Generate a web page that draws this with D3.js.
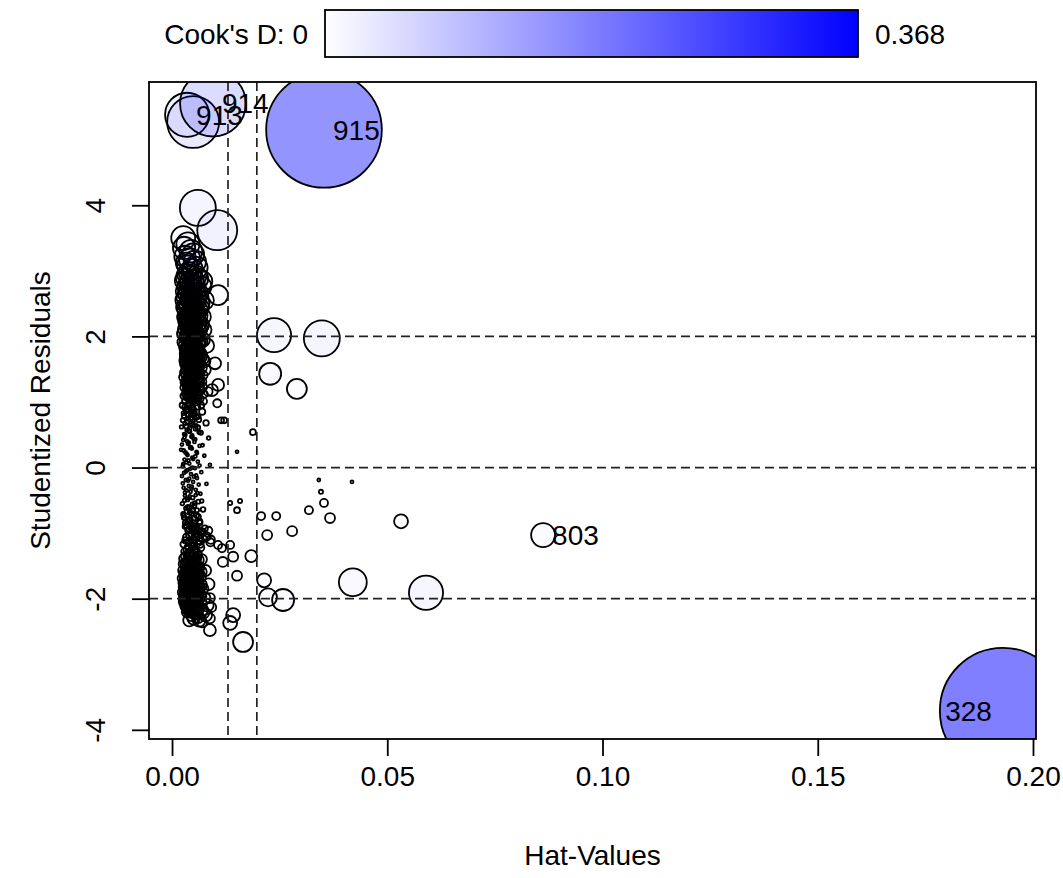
<!DOCTYPE html>
<html>
<head>
<meta charset="utf-8">
<script src="https://cdn.jsdelivr.net/npm/d3@7/dist/d3.min.js"></script>
<style>
  body { margin: 0; background: #fff; }
  text { font-family: Arial, "Liberation Sans", sans-serif; fill: #000; }
</style>
</head>
<body>
<div id="my_dataviz"></div>
<script>
// ---- data: [hat value, studentized residual, Cook's D] ----
var labelledPoints = [
  [0.0035, 5.38, 0.045],
  [0.0095, 5.55, 0.100],
  [0.0353, 5.15, 0.310],
  [0.0862, -1.03, 0.0133],
  [0.1930, -3.71, 0.368]
];
var labelIds = ["913", "914", "915", "803", "328"];

var outerPoints = [
  [0.0049, 5.27, 0.0625], [0.0060, 3.96, 0.030], [0.0105, 3.62, 0.037],
  [0.0237, 2.02, 0.027], [0.0348, 1.97, 0.030], [0.0228, 1.43, 0.0112],
  [0.0290, 1.20, 0.0092], [0.0188, 0.54, 0.0008], [0.0341, -0.19, 0.0001],
  [0.0418, -0.22, 0.0001], [0.0346, -0.37, 0.0004], [0.0353, -0.54, 0.0015],
  [0.0318, -0.65, 0.0015], [0.0367, -0.77, 0.0023], [0.0532, -0.82, 0.0045],
  [0.0207, -0.74, 0.0015], [0.0242, -0.74, 0.0015], [0.0221, -1.03, 0.0023],
  [0.0279, -0.97, 0.0023], [0.0184, -1.35, 0.0033], [0.0214, -1.72, 0.0045],
  [0.0420, -1.75, 0.018], [0.0590, -1.91, 0.027], [0.0223, -1.98, 0.0075],
  [0.0258, -2.02, 0.0112], [0.0142, -2.25, 0.0045], [0.0135, -2.37, 0.0045],
  [0.0165, -2.66, 0.0092], [0.0088, -2.48, 0.0033], [0.0070, -2.36, 0.0023],
  [0.0088, -2.30, 0.0023], [0.0151, -1.65, 0.0023], [0.0142, -1.36, 0.0023],
  [0.0135, -1.18, 0.0015], [0.0116, -1.23, 0.0015], [0.0151, -0.65, 0.0008],
  [0.0091, -2.13, 0.0023], [0.0046, -2.22, 0.0023], [0.0158, -0.51, 0.0004],
  [0.0135, -0.54, 0.0004], [0.0151, 0.24, 0.0001], [0.0114, 0.72, 0.0008],
  [0.0121, 0.72, 0.0008], [0.0105, 0.98, 0.0015], [0.0107, 1.26, 0.0033],
  [0.0093, 1.18, 0.0033], [0.0100, 1.59, 0.0033], [0.0107, 2.63, 0.0092],
  [0.0118, -1.44, 0.0023], [0.0107, -1.18, 0.0015], [0.0088, -1.99, 0.0023]
];

var upperCluster = [
  [0.0026, 3.50, 0.0133], [0.0037, 3.41, 0.0125], [0.0044, 3.30, 0.0120], [0.0030, 3.22, 0.0105],
  [0.0053, 3.14, 0.0115], [0.0047, 3.02, 0.0105], [0.0035, 2.95, 0.0092], [0.0060, 2.88, 0.0100],
  [0.0040, 2.83, 0.0088], [0.0068, 2.76, 0.0095], [0.0051, 2.72, 0.0085], [0.0029, 2.69, 0.0072],
  [0.0043, 2.62, 0.0078], [0.0058, 2.58, 0.0080], [0.0075, 2.55, 0.0085], [0.0036, 2.51, 0.0070],
  [0.0049, 2.47, 0.0072], [0.0065, 2.44, 0.0075], [0.0031, 2.40, 0.0060], [0.0055, 2.37, 0.0068],
  [0.0042, 2.33, 0.0062], [0.0070, 2.30, 0.0070], [0.0047, 2.26, 0.0060], [0.0033, 2.23, 0.0052],
  [0.0061, 2.20, 0.0060], [0.0053, 2.16, 0.0055], [0.0038, 2.13, 0.0050], [0.0073, 2.10, 0.0060],
  [0.0045, 2.07, 0.0050], [0.0027, 2.04, 0.0042], [0.0058, 2.01, 0.0048], [0.0050, 1.98, 0.0045],
  [0.0035, 1.95, 0.0040], [0.0066, 1.92, 0.0046], [0.0042, 1.89, 0.0038], [0.0081, 1.86, 0.0048],
  [0.0055, 1.84, 0.0040], [0.0031, 1.81, 0.0033], [0.0048, 1.78, 0.0035], [0.0062, 1.75, 0.0036],
  [0.0038, 1.72, 0.0030], [0.0053, 1.69, 0.0031], [0.0071, 1.66, 0.0034], [0.0029, 1.63, 0.0025],
  [0.0045, 1.60, 0.0027], [0.0058, 1.57, 0.0028], [0.0036, 1.54, 0.0023], [0.0050, 1.51, 0.0024],
  [0.0077, 1.49, 0.0029], [0.0041, 1.46, 0.0021], [0.0064, 1.43, 0.0023], [0.0032, 1.40, 0.0018],
  [0.0054, 1.37, 0.0020], [0.0046, 1.34, 0.0018], [0.0069, 1.31, 0.0020], [0.0037, 1.28, 0.0015],
  [0.0057, 1.25, 0.0016], [0.0028, 1.22, 0.0013], [0.0049, 1.19, 0.0014], [0.0084, 1.16, 0.0018],
  [0.0040, 1.13, 0.0012], [0.0060, 1.10, 0.0013], [0.0034, 1.07, 0.0010], [0.0052, 1.04, 0.0011],
  [0.0073, 1.01, 0.0012], [0.0039, 2.98, 0.0095], [0.0056, 2.92, 0.0098], [0.0047, 2.80, 0.0088],
  [0.0033, 2.76, 0.0078], [0.0062, 2.66, 0.0085], [0.0039, 2.57, 0.0070], [0.0052, 2.53, 0.0074],
  [0.0044, 2.42, 0.0065], [0.0059, 2.35, 0.0066], [0.0036, 2.29, 0.0055], [0.0050, 2.22, 0.0058],
  [0.0067, 2.18, 0.0062], [0.0041, 2.09, 0.0048], [0.0055, 2.05, 0.0050], [0.0032, 1.99, 0.0040],
  [0.0046, 1.93, 0.0042], [0.0060, 1.88, 0.0044], [0.0037, 1.84, 0.0035], [0.0052, 1.80, 0.0037],
  [0.0043, 1.74, 0.0032], [0.0067, 1.71, 0.0036], [0.0034, 1.67, 0.0027], [0.0049, 1.64, 0.0029],
  [0.0061, 1.59, 0.0030], [0.0039, 1.56, 0.0024], [0.0054, 1.53, 0.0025], [0.0044, 1.48, 0.0022],
  [0.0029, 1.45, 0.0019], [0.0059, 1.41, 0.0022], [0.0048, 1.36, 0.0019], [0.0035, 1.32, 0.0016],
  [0.0063, 1.28, 0.0018], [0.0043, 1.24, 0.0015], [0.0054, 1.17, 0.0014], [0.0031, 1.12, 0.0011],
  [0.0046, 1.08, 0.0011], [0.0065, 1.05, 0.0012], [0.0028, 3.35, 0.0115], [0.0049, 3.25, 0.0112],
  [0.0036, 3.08, 0.0100], [0.0058, 3.05, 0.0105], [0.0031, 2.90, 0.0085], [0.0051, 2.86, 0.0090],
  [0.0070, 2.84, 0.0095], [0.0037, 2.71, 0.0078], [0.0056, 2.68, 0.0082], [0.0030, 2.60, 0.0068],
  [0.0047, 2.56, 0.0072], [0.0066, 2.50, 0.0076], [0.0028, 2.45, 0.0060], [0.0041, 2.38, 0.0062],
  [0.0063, 2.32, 0.0066], [0.0033, 2.27, 0.0055], [0.0056, 2.24, 0.0060], [0.0044, 2.15, 0.0054],
  [0.0030, 2.11, 0.0046], [0.0062, 2.08, 0.0055], [0.0049, 2.03, 0.0050], [0.0038, 1.97, 0.0042],
  [0.0071, 1.95, 0.0050], [0.0027, 1.91, 0.0036], [0.0054, 1.89, 0.0042], [0.0044, 1.83, 0.0037],
  [0.0033, 1.77, 0.0031], [0.0058, 1.73, 0.0034], [0.0040, 1.69, 0.0029], [0.0075, 1.62, 0.0034],
  [0.0030, 1.58, 0.0023], [0.0052, 1.55, 0.0026], [0.0068, 1.52, 0.0028], [0.0038, 1.49, 0.0022],
  [0.0057, 1.45, 0.0023], [0.0026, 1.38, 0.0016], [0.0043, 1.35, 0.0018], [0.0064, 1.33, 0.0020],
  [0.0051, 1.30, 0.0018], [0.0033, 1.26, 0.0015], [0.0071, 1.23, 0.0018], [0.0047, 1.21, 0.0015],
  [0.0038, 1.15, 0.0013], [0.0062, 1.13, 0.0014], [0.0027, 1.09, 0.0010], [0.0056, 1.06, 0.0012],
  [0.0042, 1.02, 0.0011], [0.0041, 3.18, 0.0108], [0.0033, 3.12, 0.0100], [0.0045, 2.93, 0.0092],
  [0.0028, 2.85, 0.0080], [0.0054, 2.78, 0.0088], [0.0042, 2.74, 0.0082], [0.0035, 2.65, 0.0074],
  [0.0050, 2.63, 0.0078], [0.0060, 2.61, 0.0082], [0.0027, 2.55, 0.0064], [0.0044, 2.52, 0.0070],
  [0.0034, 2.46, 0.0063], [0.0053, 2.43, 0.0068], [0.0039, 2.36, 0.0060], [0.0048, 2.31, 0.0060],
  [0.0029, 2.30, 0.0052], [0.0058, 2.28, 0.0064], [0.0041, 2.24, 0.0056], [0.0035, 2.17, 0.0050],
  [0.0051, 2.14, 0.0054], [0.0064, 2.12, 0.0058], [0.0043, 2.05, 0.0048], [0.0033, 2.02, 0.0043],
  [0.0053, 1.99, 0.0047], [0.0040, 1.95, 0.0042], [0.0061, 1.93, 0.0046], [0.0030, 1.87, 0.0036],
  [0.0048, 1.86, 0.0040], [0.0057, 1.82, 0.0040], [0.0035, 1.79, 0.0033], [0.0046, 1.75, 0.0034],
  [0.0065, 1.74, 0.0037], [0.0031, 1.70, 0.0028], [0.0055, 1.67, 0.0031], [0.0043, 1.65, 0.0029],
  [0.0037, 1.61, 0.0026], [0.0064, 1.60, 0.0030], [0.0047, 1.57, 0.0027], [0.0033, 1.52, 0.0023],
  [0.0058, 1.50, 0.0025], [0.0042, 1.43, 0.0021], [0.0052, 1.40, 0.0021], [0.0036, 1.37, 0.0018],
  [0.0060, 1.36, 0.0021], [0.0030, 1.30, 0.0016], [0.0045, 1.28, 0.0017], [0.0055, 1.22, 0.0016],
  [0.0039, 1.19, 0.0014], [0.0066, 1.18, 0.0016], [0.0050, 1.14, 0.0013], [0.0032, 1.16, 0.0012],
  [0.0044, 1.11, 0.0012]
];

var upperDense = [
  [0.0034, 2.58, 0.0040], [0.0052, 2.56, 0.0042], [0.0041, 2.53, 0.0038], [0.0063, 2.51, 0.0043],
  [0.0029, 2.49, 0.0035], [0.0047, 2.47, 0.0038], [0.0056, 2.44, 0.0040], [0.0037, 2.42, 0.0034],
  [0.0068, 2.40, 0.0042], [0.0044, 2.38, 0.0035], [0.0031, 2.35, 0.0031], [0.0053, 2.33, 0.0036],
  [0.0040, 2.31, 0.0032], [0.0060, 2.29, 0.0036], [0.0035, 2.26, 0.0030], [0.0049, 2.24, 0.0032],
  [0.0027, 2.22, 0.0027], [0.0058, 2.20, 0.0033], [0.0043, 2.18, 0.0030], [0.0071, 2.16, 0.0035],
  [0.0038, 2.13, 0.0028], [0.0052, 2.11, 0.0030], [0.0032, 2.09, 0.0026], [0.0046, 2.07, 0.0028],
  [0.0063, 2.05, 0.0031], [0.0040, 2.03, 0.0026], [0.0055, 2.00, 0.0028], [0.0029, 1.98, 0.0023],
  [0.0048, 1.96, 0.0026], [0.0036, 1.94, 0.0024], [0.0066, 1.92, 0.0029], [0.0043, 1.90, 0.0024],
  [0.0057, 1.87, 0.0025], [0.0033, 1.85, 0.0021], [0.0050, 1.83, 0.0023], [0.0039, 1.81, 0.0021],
  [0.0061, 1.79, 0.0024], [0.0045, 1.76, 0.0021], [0.0028, 1.74, 0.0018], [0.0054, 1.72, 0.0021],
  [0.0037, 1.70, 0.0019], [0.0069, 1.68, 0.0022], [0.0047, 1.65, 0.0019], [0.0031, 1.63, 0.0016],
  [0.0059, 1.61, 0.0019], [0.0042, 1.59, 0.0017], [0.0051, 1.57, 0.0017], [0.0035, 1.54, 0.0015],
  [0.0064, 1.52, 0.0018], [0.0046, 1.50, 0.0015], [0.0030, 1.48, 0.0013], [0.0055, 1.46, 0.0015],
  [0.0040, 1.43, 0.0013], [0.0073, 1.41, 0.0016], [0.0049, 1.39, 0.0013], [0.0034, 1.37, 0.0011],
  [0.0060, 1.35, 0.0013], [0.0043, 1.32, 0.0011], [0.0027, 1.30, 0.0009], [0.0053, 1.28, 0.0011],
  [0.0038, 1.26, 0.0010], [0.0066, 1.24, 0.0012], [0.0047, 1.21, 0.0010], [0.0032, 1.19, 0.0008],
  [0.0057, 1.17, 0.0010], [0.0041, 1.15, 0.0008], [0.0075, 1.12, 0.0011], [0.0050, 1.10, 0.0009],
  [0.0036, 1.08, 0.0007], [0.0062, 1.06, 0.0009], [0.0044, 1.03, 0.0007], [0.0029, 1.01, 0.0006],
  [0.0055, 0.99, 0.0007], [0.0039, 0.97, 0.0006], [0.0068, 0.95, 0.0008], [0.0048, 0.92, 0.0006]
];

var middleCluster = [
  [0.0040, 0.98, 0.0009], [0.0024, 0.95, 0.0007], [0.0058, 0.93, 0.0009], [0.0046, 0.90, 0.0008],
  [0.0033, 0.87, 0.0007], [0.0070, 0.85, 0.0009], [0.0051, 0.82, 0.0007], [0.0028, 0.79, 0.0005],
  [0.0043, 0.76, 0.0006], [0.0062, 0.73, 0.0006], [0.0036, 0.70, 0.0005], [0.0079, 0.68, 0.0007],
  [0.0048, 0.65, 0.0004], [0.0022, 0.62, 0.0003], [0.0055, 0.59, 0.0004], [0.0039, 0.56, 0.0003],
  [0.0067, 0.53, 0.0004], [0.0031, 0.50, 0.0002], [0.0045, 0.47, 0.0002], [0.0085, 0.45, 0.0003],
  [0.0026, 0.42, 0.0002], [0.0052, 0.39, 0.0002], [0.0037, 0.36, 0.0001], [0.0064, 0.33, 0.0002],
  [0.0042, 0.30, 0.0001], [0.0021, 0.27, 0.0001], [0.0057, 0.24, 0.0001], [0.0034, 0.21, 0.0001],
  [0.0075, 0.18, 0.0001], [0.0047, 0.15, 0.00005], [0.0029, 0.12, 0.00003], [0.0060, 0.09, 0.00003],
  [0.0040, 0.06, 0.00002], [0.0088, 0.04, 0.00002], [0.0025, 0.02, 0.00001], [0.0053, -0.01, 0.00001],
  [0.0036, -0.04, 0.00002], [0.0068, -0.07, 0.00003], [0.0044, -0.10, 0.00003], [0.0023, -0.13, 0.00003],
  [0.0058, -0.16, 0.00005], [0.0032, -0.19, 0.0001], [0.0049, -0.22, 0.0001], [0.0080, -0.25, 0.0001],
  [0.0039, -0.28, 0.0001], [0.0027, -0.31, 0.0001], [0.0055, -0.34, 0.0002], [0.0043, -0.37, 0.0002],
  [0.0066, -0.40, 0.0002], [0.0030, -0.43, 0.0002], [0.0048, -0.46, 0.0003], [0.0036, -0.49, 0.0003],
  [0.0061, -0.52, 0.0004], [0.0024, -0.55, 0.0003], [0.0052, -0.58, 0.0004], [0.0041, -0.61, 0.0004],
  [0.0072, -0.64, 0.0005], [0.0034, -0.67, 0.0004], [0.0046, -0.70, 0.0005], [0.0057, -0.73, 0.0006],
  [0.0028, -0.76, 0.0005], [0.0039, -0.79, 0.0006], [0.0064, -0.82, 0.0007], [0.0050, -0.85, 0.0007],
  [0.0033, -0.88, 0.0006], [0.0044, -0.91, 0.0007], [0.0076, -0.93, 0.0009], [0.0037, -0.96, 0.0007],
  [0.0055, -0.98, 0.0008], [0.0030, 0.92, 0.0007], [0.0050, 0.88, 0.0007], [0.0038, 0.81, 0.0006],
  [0.0057, 0.77, 0.0006], [0.0025, 0.72, 0.0004], [0.0045, 0.68, 0.0005], [0.0033, 0.63, 0.0004],
  [0.0060, 0.61, 0.0005], [0.0041, 0.55, 0.0003], [0.0028, 0.51, 0.0002], [0.0050, 0.44, 0.0002],
  [0.0035, 0.40, 0.0002], [0.0023, 0.35, 0.0001], [0.0046, 0.29, 0.0001], [0.0031, 0.23, 0.0001],
  [0.0054, 0.17, 0.00005], [0.0038, 0.11, 0.00003], [0.0026, 0.05, 0.00002], [0.0047, 0.00, 0.00001],
  [0.0032, -0.06, 0.00002], [0.0056, -0.12, 0.00003], [0.0040, -0.17, 0.00005], [0.0025, -0.24, 0.0001],
  [0.0046, -0.29, 0.0001], [0.0034, -0.35, 0.0002], [0.0059, -0.39, 0.0002], [0.0041, -0.44, 0.0002],
  [0.0029, -0.50, 0.0003], [0.0053, -0.54, 0.0003], [0.0037, -0.60, 0.0004], [0.0048, -0.66, 0.0005],
  [0.0026, -0.71, 0.0004], [0.0061, -0.75, 0.0006], [0.0042, -0.80, 0.0006], [0.0031, -0.84, 0.0006],
  [0.0053, -0.89, 0.0007], [0.0040, -0.94, 0.0007], [0.0068, -0.97, 0.0009], [0.0046, -0.92, 0.0010],
  [0.0060, -0.95, 0.0011], [0.0072, -0.99, 0.0013], [0.0085, -0.96, 0.0013], [0.0053, -1.02, 0.0011],
  [0.0078, -1.07, 0.0014], [0.0066, -1.12, 0.0013], [0.0089, -1.14, 0.0015]
];

var middleDense = [
  [0.0035, 0.89, 0.0005], [0.0052, 0.86, 0.0005], [0.0027, 0.83, 0.0004], [0.0044, 0.80, 0.0004],
  [0.0061, 0.78, 0.0005], [0.0038, 0.74, 0.0003], [0.0049, 0.71, 0.0003], [0.0030, 0.67, 0.0003],
  [0.0056, 0.64, 0.0003], [0.0042, 0.60, 0.0002], [0.0034, 0.57, 0.0002], [0.0063, 0.54, 0.0003],
  [0.0047, 0.49, 0.0002], [0.0029, 0.46, 0.0001], [0.0054, 0.43, 0.0001], [0.0039, 0.38, 0.0001],
  [0.0071, 0.34, 0.0001], [0.0044, 0.31, 0.0001], [0.0027, 0.26, 0.0001], [0.0058, 0.22, 0.0001],
  [0.0036, 0.19, 0.00005], [0.0049, 0.13, 0.00003], [0.0033, 0.08, 0.00002], [0.0064, 0.03, 0.00001],
  [0.0042, -0.02, 0.00001], [0.0028, -0.08, 0.00002], [0.0051, -0.14, 0.00003], [0.0037, -0.20, 0.00005],
  [0.0062, -0.26, 0.0001], [0.0045, -0.32, 0.0001], [0.0030, -0.38, 0.0001], [0.0055, -0.42, 0.0002],
  [0.0039, -0.47, 0.0002], [0.0069, -0.51, 0.0003], [0.0047, -0.56, 0.0003], [0.0032, -0.62, 0.0003],
  [0.0058, -0.65, 0.0004], [0.0041, -0.69, 0.0004], [0.0027, -0.73, 0.0004], [0.0052, -0.77, 0.0005],
  [0.0036, -0.81, 0.0005], [0.0065, -0.84, 0.0006], [0.0045, -0.87, 0.0006], [0.0030, -0.90, 0.0005],
  [0.0056, -0.93, 0.0007]
];

var lowerCluster = [
  [0.0045, -1.01, 0.0011], [0.0062, -1.03, 0.0013], [0.0081, -1.05, 0.0015], [0.0033, -1.06, 0.0010],
  [0.0071, -1.08, 0.0014], [0.0052, -1.10, 0.0012], [0.0090, -1.10, 0.0016], [0.0039, -1.13, 0.0011],
  [0.0058, -1.15, 0.0013], [0.0027, -1.17, 0.0010], [0.0047, -1.20, 0.0012], [0.0066, -1.22, 0.0014],
  [0.0035, -1.25, 0.0012], [0.0054, -1.27, 0.0013], [0.0042, -1.30, 0.0020], [0.0058, -1.32, 0.0022],
  [0.0031, -1.35, 0.0019], [0.0050, -1.38, 0.0022], [0.0069, -1.40, 0.0025], [0.0038, -1.43, 0.0021],
  [0.0055, -1.45, 0.0023], [0.0026, -1.47, 0.0019], [0.0046, -1.50, 0.0023], [0.0063, -1.52, 0.0025],
  [0.0034, -1.54, 0.0021], [0.0052, -1.56, 0.0024], [0.0078, -1.57, 0.0028], [0.0040, -1.59, 0.0023],
  [0.0029, -1.61, 0.0021], [0.0058, -1.62, 0.0026], [0.0047, -1.64, 0.0025], [0.0036, -1.66, 0.0023],
  [0.0066, -1.67, 0.0028], [0.0024, -1.69, 0.0021], [0.0053, -1.70, 0.0026], [0.0042, -1.72, 0.0025],
  [0.0031, -1.74, 0.0023], [0.0060, -1.75, 0.0028], [0.0048, -1.77, 0.0027], [0.0085, -1.78, 0.0032],
  [0.0037, -1.79, 0.0025], [0.0055, -1.81, 0.0028], [0.0027, -1.82, 0.0023], [0.0044, -1.84, 0.0027],
  [0.0071, -1.85, 0.0031], [0.0033, -1.87, 0.0025], [0.0051, -1.88, 0.0029], [0.0040, -1.90, 0.0027],
  [0.0062, -1.91, 0.0031], [0.0029, -1.93, 0.0025], [0.0046, -1.94, 0.0029], [0.0036, -1.96, 0.0028],
  [0.0057, -1.97, 0.0031], [0.0075, -1.99, 0.0034], [0.0042, -2.00, 0.0029], [0.0031, -2.02, 0.0028],
  [0.0052, -2.03, 0.0031], [0.0066, -2.05, 0.0034], [0.0038, -2.07, 0.0030], [0.0047, -2.09, 0.0031],
  [0.0082, -2.10, 0.0037], [0.0058, -2.12, 0.0034], [0.0035, -2.14, 0.0031], [0.0069, -2.17, 0.0036],
  [0.0044, -2.19, 0.0033], [0.0054, -2.22, 0.0035], [0.0078, -2.25, 0.0039], [0.0050, -2.30, 0.0036],
  [0.0063, -2.33, 0.0038], [0.0048, -1.42, 0.0022], [0.0036, -1.52, 0.0022], [0.0057, -1.59, 0.0025],
  [0.0043, -1.61, 0.0024], [0.0034, -1.70, 0.0023], [0.0050, -1.73, 0.0026], [0.0039, -1.76, 0.0025],
  [0.0058, -1.79, 0.0028], [0.0030, -1.80, 0.0023], [0.0047, -1.82, 0.0027], [0.0064, -1.83, 0.0030],
  [0.0040, -1.86, 0.0026], [0.0054, -1.86, 0.0029], [0.0035, -1.91, 0.0026], [0.0049, -1.92, 0.0029],
  [0.0044, -1.97, 0.0029], [0.0061, -2.01, 0.0032], [0.0037, -2.04, 0.0029], [0.0045, -2.12, 0.0031],
  [0.0039, -1.33, 0.0020], [0.0053, -1.35, 0.0022], [0.0027, -1.39, 0.0019], [0.0062, -1.41, 0.0024],
  [0.0044, -1.46, 0.0022], [0.0031, -1.49, 0.0020], [0.0057, -1.50, 0.0024], [0.0048, -1.55, 0.0024],
  [0.0025, -1.57, 0.0020], [0.0068, -1.59, 0.0027], [0.0038, -1.63, 0.0023], [0.0052, -1.65, 0.0025],
  [0.0029, -1.67, 0.0022], [0.0061, -1.69, 0.0027], [0.0045, -1.69, 0.0025], [0.0036, -1.72, 0.0024],
  [0.0056, -1.73, 0.0027], [0.0026, -1.76, 0.0022], [0.0043, -1.78, 0.0026], [0.0068, -1.79, 0.0030],
  [0.0033, -1.83, 0.0024], [0.0051, -1.84, 0.0028], [0.0038, -1.88, 0.0026], [0.0058, -1.89, 0.0030],
  [0.0025, -1.90, 0.0023], [0.0044, -1.91, 0.0028], [0.0032, -1.95, 0.0026], [0.0052, -1.96, 0.0030],
  [0.0066, -1.96, 0.0033], [0.0039, -1.98, 0.0028], [0.0048, -2.01, 0.0030], [0.0028, -2.05, 0.0026],
  [0.0056, -2.07, 0.0032], [0.0041, -2.10, 0.0030], [0.0032, -2.11, 0.0029], [0.0062, -2.14, 0.0035],
  [0.0050, -2.16, 0.0033], [0.0039, -2.18, 0.0031], [0.0072, -2.21, 0.0037], [0.0046, -2.25, 0.0034],
  [0.0060, -2.28, 0.0036], [0.0040, -2.33, 0.0034], [0.0041, -1.37, 0.0021], [0.0056, -1.40, 0.0023],
  [0.0033, -1.44, 0.0020], [0.0051, -1.47, 0.0023], [0.0040, -1.51, 0.0022], [0.0060, -1.55, 0.0026],
  [0.0030, -1.58, 0.0021], [0.0049, -1.60, 0.0024], [0.0041, -1.65, 0.0024], [0.0062, -1.64, 0.0027],
  [0.0032, -1.68, 0.0022], [0.0050, -1.67, 0.0025], [0.0039, -1.70, 0.0024], [0.0046, -1.74, 0.0026],
  [0.0029, -1.77, 0.0022], [0.0053, -1.77, 0.0027], [0.0041, -1.80, 0.0026], [0.0035, -1.81, 0.0025],
  [0.0061, -1.81, 0.0029], [0.0049, -1.85, 0.0028], [0.0030, -1.86, 0.0024], [0.0043, -1.88, 0.0027],
  [0.0056, -1.91, 0.0030], [0.0038, -1.93, 0.0027], [0.0047, -1.96, 0.0029], [0.0028, -1.98, 0.0025],
  [0.0054, -2.00, 0.0031], [0.0041, -2.03, 0.0029], [0.0034, -2.06, 0.0028], [0.0050, -2.06, 0.0031],
  [0.0044, -2.15, 0.0032], [0.0036, -2.20, 0.0031]
];

var lowerDense = [
  [0.0040, -1.04, 0.0009], [0.0056, -1.07, 0.0010], [0.0031, -1.11, 0.0009], [0.0048, -1.14, 0.0010],
  [0.0065, -1.17, 0.0012], [0.0037, -1.21, 0.0010], [0.0054, -1.24, 0.0011], [0.0029, -1.28, 0.0010],
  [0.0045, -1.31, 0.0012], [0.0061, -1.34, 0.0014], [0.0035, -1.36, 0.0012], [0.0050, -1.41, 0.0014],
  [0.0042, -1.44, 0.0014], [0.0028, -1.46, 0.0012], [0.0058, -1.48, 0.0016], [0.0037, -1.53, 0.0015],
  [0.0053, -1.54, 0.0016], [0.0044, -1.58, 0.0016], [0.0031, -1.60, 0.0015], [0.0064, -1.61, 0.0019],
  [0.0048, -1.63, 0.0017], [0.0035, -1.65, 0.0016], [0.0056, -1.66, 0.0018], [0.0027, -1.71, 0.0015],
  [0.0042, -1.71, 0.0017], [0.0051, -1.75, 0.0018], [0.0038, -1.77, 0.0017], [0.0033, -1.79, 0.0017],
  [0.0059, -1.77, 0.0019], [0.0046, -1.80, 0.0018], [0.0029, -1.84, 0.0016], [0.0041, -1.85, 0.0018],
  [0.0053, -1.83, 0.0019], [0.0036, -1.89, 0.0018], [0.0050, -1.90, 0.0019], [0.0063, -1.88, 0.0021],
  [0.0043, -1.93, 0.0019], [0.0031, -1.94, 0.0018], [0.0055, -1.95, 0.0020], [0.0039, -2.00, 0.0019],
  [0.0047, -1.99, 0.0020], [0.0029, -2.01, 0.0018], [0.0060, -2.03, 0.0022], [0.0035, -2.05, 0.0019],
  [0.0044, -2.06, 0.0020], [0.0052, -2.09, 0.0021], [0.0040, -2.13, 0.0021], [0.0048, -2.18, 0.0022],
  [0.0057, -2.20, 0.0023], [0.0034, -2.16, 0.0020]
];

var xTicks = [0, 0.05, 0.10, 0.15, 0.20];
var yTicks = [-4, -2, 0, 2, 4];
var hatCutoffs = [0.0130, 0.0197];   // 2p/n and 3p/n
var residCutoffs = [-2, 0, 2];
var cookRange = [0, 0.368];

// ---- layout ----
var width = 1063, height = 878;
var plot = {left: 149, right: 1036, top: 82, bottom: 739};
var fontSize = "28px";

var svg = d3.select("#my_dataviz")
  .append("svg")
    .attr("width", width)
    .attr("height", height);

var x = d3.scaleLinear()
  .domain([-0.00535, 0.2007])
  .range([plot.left, plot.right]);

var y = d3.scaleLinear()
  .domain([-4.14, 5.88])
  .range([plot.bottom, plot.top]);

var radius = d3.scaleSqrt()
  .domain(cookRange)
  .range([0, 63]);

// blue fill whose alpha grows with Cook's D (half-transparent at the max)
var fillAlpha = d3.scaleLinear()
  .domain(cookRange)
  .range([0, 0.5]);

var colour = d3.scaleLinear()
  .domain(cookRange)
  .range(["#ffffff", "#0000ff"]);

svg.append("clipPath")
    .attr("id", "plot-clip")
  .append("rect")
    .attr("x", plot.left)
    .attr("y", plot.top)
    .attr("width", plot.right - plot.left)
    .attr("height", plot.bottom - plot.top);

// all points, drawn in one layer
var allPoints = upperCluster.concat(upperDense, middleCluster, middleDense,
  lowerCluster, lowerDense, outerPoints, labelledPoints);

svg.append("g")
    .attr("clip-path", "url(#plot-clip)")
  .selectAll("circle")
  .data(allPoints)
  .enter().append("circle")
    .attr("cx", function(d) { return x(d[0]); })
    .attr("cy", function(d) { return y(d[1]); })
    .attr("r", function(d) { return Math.max(radius(d[2]), 1.5); })
    .attr("fill", "#0000ff")
    .attr("fill-opacity", function(d) { return fillAlpha(d[2]); })
    .attr("stroke", "#000")
    .attr("stroke-width", 1.8);

// reference lines
svg.selectAll(".vline")
  .data(hatCutoffs)
  .enter().append("line")
    .attr("class", "vline")
    .attr("x1", function(d) { return x(d); })
    .attr("x2", function(d) { return x(d); })
    .attr("y1", plot.top)
    .attr("y2", plot.bottom)
    .attr("stroke", "#222")
    .attr("stroke-width", 1.7)
    .attr("stroke-dasharray", "9,5");

svg.selectAll(".hline")
  .data(residCutoffs)
  .enter().append("line")
    .attr("class", "hline")
    .attr("x1", plot.left)
    .attr("x2", plot.right)
    .attr("y1", function(d) { return y(d); })
    .attr("y2", function(d) { return y(d); })
    .attr("stroke", "#222")
    .attr("stroke-width", 1.7)
    .attr("stroke-dasharray", "9,5");

// point labels: left of the point on the right half, else right
var midX = (x.domain()[0] + x.domain()[1]) / 2;
svg.selectAll(".plabel")
  .data(labelledPoints)
  .enter().append("text")
    .attr("class", "plabel")
    .attr("x", function(d) { return x(d[0]) + (d[0] > midX ? -11 : 9); })
    .attr("y", function(d) { return y(d[1]); })
    .attr("dy", "0.35em")
    .attr("text-anchor", function(d) { return d[0] > midX ? "end" : "start"; })
    .style("font-size", fontSize)
    .text(function(d, i) { return labelIds[i]; });

// box
svg.append("rect")
    .attr("x", plot.left)
    .attr("y", plot.top)
    .attr("width", plot.right - plot.left)
    .attr("height", plot.bottom - plot.top)
    .attr("fill", "none")
    .attr("stroke", "#000")
    .attr("stroke-width", 1.8);

// axes
var xAxis = svg.append("g")
    .attr("transform", "translate(0," + plot.bottom + ")")
    .call(d3.axisBottom(x)
      .tickValues(xTicks)
      .tickFormat(d3.format(".2f"))
      .tickSize(17)
      .tickSizeOuter(0)
      .tickPadding(10));
xAxis.select(".domain").remove();
xAxis.selectAll("line").attr("stroke", "#000").attr("stroke-width", 1.8);
xAxis.selectAll("text").style("font-size", fontSize).attr("fill", "#000");

var yAxis = svg.append("g")
    .attr("transform", "translate(" + plot.left + ",0)")
    .call(d3.axisLeft(y)
      .tickValues(yTicks)
      .tickFormat(function(d) { return String(d); })
      .tickSize(17)
      .tickSizeOuter(0));
yAxis.select(".domain").remove();
yAxis.selectAll("line").attr("stroke", "#000").attr("stroke-width", 1.8);
yAxis.selectAll("text")
    .attr("x", null)
    .attr("dy", "0.35em")
    .attr("text-anchor", "middle")
    .attr("transform", "translate(-54,0) rotate(-90)")
    .style("font-size", fontSize)
    .attr("fill", "#000");

// axis titles
svg.append("text")
    .attr("text-anchor", "middle")
    .attr("x", (plot.left + plot.right) / 2)
    .attr("y", 855)
    .attr("dy", "0.35em")
    .style("font-size", fontSize)
    .text("Hat-Values");

svg.append("text")
    .attr("text-anchor", "middle")
    .attr("transform", "translate(40," + (plot.top + plot.bottom) / 2 + ") rotate(-90)")
    .attr("dy", "0.35em")
    .style("font-size", fontSize)
    .text("Studentized Residuals");

// Cook's D colour bar
var grad = svg.append("linearGradient")
    .attr("id", "cook-gradient")
    .attr("x1", "0%").attr("x2", "100%")
    .attr("y1", "0%").attr("y2", "0%");
grad.selectAll("stop")
  .data(cookRange)
  .enter().append("stop")
    .attr("offset", function(d, i) { return i === 0 ? "0%" : "100%"; })
    .attr("stop-color", function(d) { return colour(d); });

svg.append("rect")
    .attr("x", 325)
    .attr("y", 10)
    .attr("width", 533)
    .attr("height", 47)
    .attr("fill", "url(#cook-gradient)")
    .attr("stroke", "#000")
    .attr("stroke-width", 1.8);

svg.append("text")
    .attr("x", 308)
    .attr("y", 34)
    .attr("dy", "0.35em")
    .attr("text-anchor", "end")
    .style("font-size", fontSize)
    .text("Cook's D: " + cookRange[0]);

svg.append("text")
    .attr("x", 875)
    .attr("y", 34)
    .attr("dy", "0.35em")
    .attr("text-anchor", "start")
    .style("font-size", fontSize)
    .text(cookRange[1]);
</script>
</body>
</html>
